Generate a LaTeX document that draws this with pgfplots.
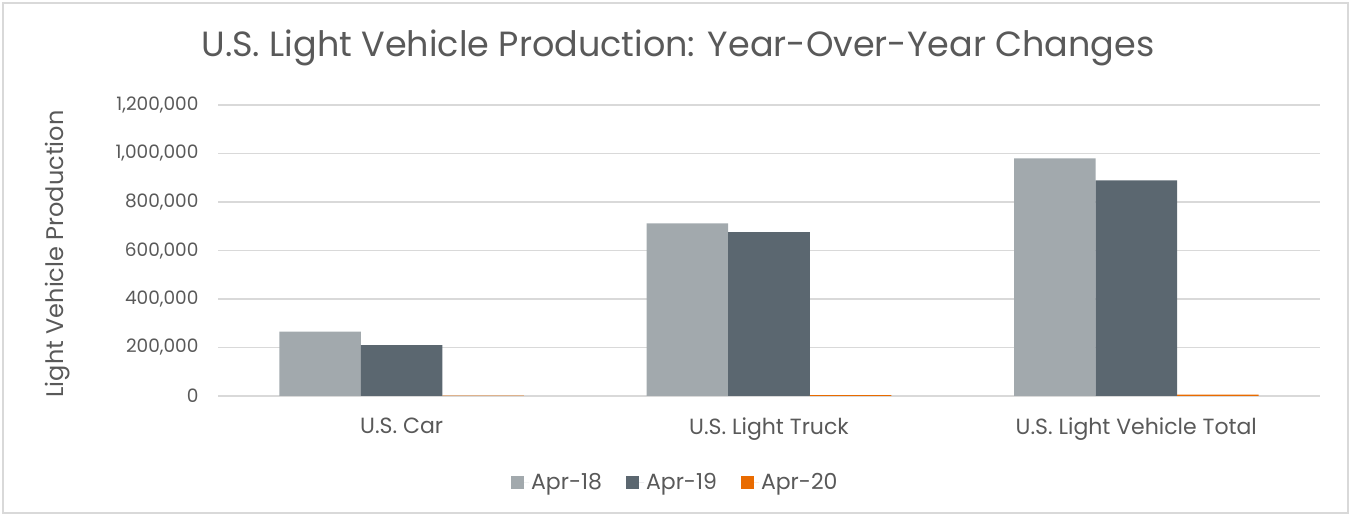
\documentclass[border=0pt]{standalone}
\usepackage{pgfplots}
\pgfplotsset{compat=1.18}
\usepackage{fontspec}
\setmainfont{Poppins}

\definecolor{txt}{HTML}{595959}
\definecolor{gridc}{HTML}{D9D9D9}
\definecolor{frame}{HTML}{D9D9D9}
\definecolor{cA}{HTML}{A2A9AD}
\definecolor{cB}{HTML}{5B6770}
\definecolor{cC}{HTML}{E96B00}

\begin{document}
\begin{tikzpicture}[x=1pt,y=1pt]
\useasboundingbox (0,0) rectangle (1351,516);
\draw[frame, line width=1.5pt] (3,3) rectangle (1348,513);

\begin{axis}[
    at={(218pt,120pt)}, anchor=south west,
    width=1102pt, height=291pt, scale only axis,
    ybar=0pt, bar width=0.222,
    xmin=-0.5, xmax=2.5,
    ymin=0, ymax=1200000,
    xtick={0,1,2},
    xticklabels={U.S. Car, U.S. Light Truck, U.S. Light Vehicle Total},
    ytick={0,200000,400000,600000,800000,1000000,1200000},
    scaled y ticks=false,
    /pgf/number format/.cd, fixed, 1000 sep={,}, assume math mode=true,
    /pgfplots/.cd,
    ymajorgrids,
    grid style={line width=1.3pt, gridc},
    axis line style={draw=none},
    major tick length=0pt,
    tick label style={color=txt},
    yticklabel style={xshift=-16pt, font=\fontsize{18.5}{22}\selectfont},
    xticklabel style={yshift=-18pt, font=\fontsize{22}{26}\selectfont},
    legend style={at={(0.415,-0.296)}, anchor=center, draw=none,
        font=\fontsize{22}{26}\selectfont, text=txt,
        legend columns=3,
        /tikz/every even column/.append style={column sep=22pt}},
    legend image code/.code={\fill[#1, draw=none] (0pt,-6.5pt) rectangle (13pt,6.5pt);
        \path (0pt,0pt) -- (18pt,0pt);},
]
% Apr-18
\addplot[fill=cA, draw=none] coordinates {(0,265000) (1,712000) (2,980000)};
% Apr-19
\addplot[fill=cB, draw=none] coordinates {(0,210000) (1,676000) (2,889000)};
% Apr-20
\addplot[fill=cC, draw=none] coordinates {(0,1500) (1,4000) (2,5500)};
\legend{Apr-18, Apr-19, Apr-20}
\end{axis}

\node[txt, font=\fontsize{35}{40}\selectfont] at (678,468) {U.S. Light Vehicle Production: Year-Over-Year Changes};
\node[txt, rotate=90, font=\fontsize{24}{28}\selectfont] at (58,262) {Light Vehicle Production};
\end{tikzpicture}
\end{document}
